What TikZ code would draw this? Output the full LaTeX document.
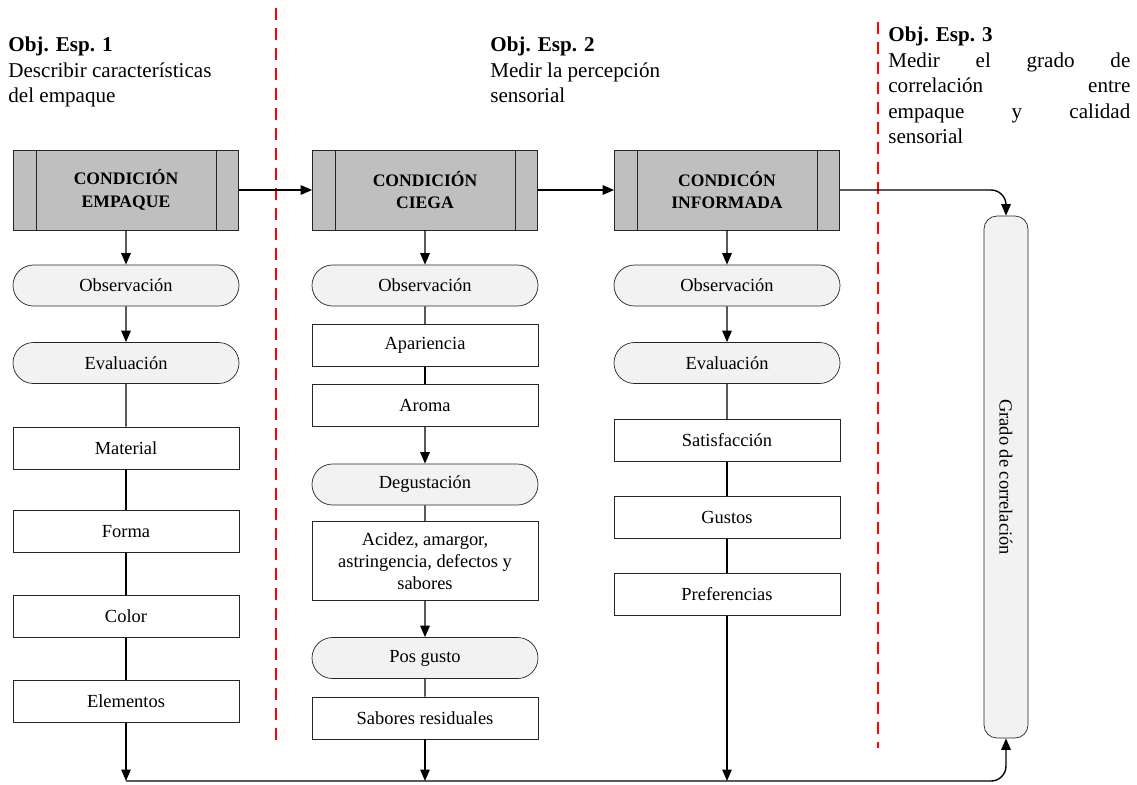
\documentclass[tikz,border=0pt]{standalone}
\usepackage{fontspec}
\setmainfont{Liberation Serif}
\usetikzlibrary{arrows.meta,shapes.misc}

\definecolor{condgray}{RGB}{191,191,191}
\definecolor{stepgray}{RGB}{242,242,242}

\tikzset{
  condbox/.style={rectangle, draw=black!85, fill=condgray, minimum width=45mm,
    minimum height=16mm, inner sep=0pt, align=center,
    font=\fontsize{10}{13}\selectfont\bfseries,
    path picture={
      \draw[black!85] ([xshift=4.6mm]path picture bounding box.north west) -- ([xshift=4.6mm]path picture bounding box.south west);
      \draw[black!85] ([xshift=-4.4mm]path picture bounding box.north east) -- ([xshift=-4.4mm]path picture bounding box.south east);
    }},
  roundbox/.style={rounded rectangle, draw=black!85, fill=stepgray, minimum width=45.2mm,
    minimum height=8.2mm, inner sep=0pt, font=\fontsize{10.5}{12.5}\selectfont},
  plainbox/.style={rectangle, draw=black!85, fill=white, minimum width=45.2mm,
    minimum height=8.4mm, inner sep=0pt, align=center, font=\fontsize{10.5}{12.5}\selectfont},
  gradobox/.style={rectangle, rounded corners=2.6mm, draw=black!85, fill=stepgray,
    minimum width=8.8mm, minimum height=104.4mm, inner sep=0pt, font=\fontsize{10.5}{12.5}\selectfont},
  objtext/.style={anchor=north west, inner sep=0pt, align=left, font=\fontsize{12}{14.5}\selectfont},
  link/.style={line width=0.8pt},
  arr/.style={line width=0.8pt, -{Triangle[length=2.3mm,width=1.9mm]}},
  divider/.style={red, line width=1.1pt, dash pattern=on 2.4mm off 1.6mm},
}

\begin{document}
\begin{tikzpicture}[x=0.2mm,y=-0.2mm]
\useasboundingbox (0,0) rectangle (1137,784);

% objectives:
\node[objtext] (obj1) at (8,37) {\textbf{Obj. Esp. 1}\\Describir características\\del empaque};
\node[objtext] (obj2) at (490,37) {\textbf{Obj. Esp. 2}\\Medir la percepción\\sensorial};
\node[objtext] (obj3) at (888,27) {\textbf{Obj. Esp. 3}\\
  \makebox[48.4mm][s]{Medir el grado de}\\
  \makebox[48.4mm][s]{correlación entre}\\
  \makebox[48.4mm][s]{empaque y calidad}\\
  sensorial};

% dividers:
\draw[divider] (276,8) -- (276,748);
\draw[divider] (878,22) -- (878,748);

% 1st column:
\node[condbox] (emp) at (126,190) {CONDICIÓN\\EMPAQUE};
\node[roundbox] (obs1) at (126,285.5) {Observación};
\node[roundbox] (eval1) at (126,363) {Evaluación};
\node[plainbox] (mat) at (126,448) {Material};
\node[plainbox] (forma) at (126,531.5) {Forma};
\node[plainbox] (color) at (126,616.5) {Color};
\node[plainbox] (elem) at (126,701.5) {Elementos};

\draw[arr] (emp) -- (obs1);
\draw[arr] (obs1) -- (eval1);
\draw[link] (eval1) -- (mat);
\draw[link] (mat) -- (forma);
\draw[link] (forma) -- (color);
\draw[link] (color) -- (elem);

% 2nd column:
\node[condbox] (ciega) at (425,190) {CONDICIÓN\\CIEGA};
\node[roundbox] (obs2) at (425,285.5) {Observación};
\node[plainbox] (apar) at (425,345.5) {Apariencia};
\node[plainbox] (aroma) at (425,405.5) {Aroma};
\node[roundbox] (degus) at (425,484.5) {Degustación};
\node[plainbox, minimum height=15.8mm] (acidez) at (425,561) {Acidez, amargor,\\astringencia, defectos y\\sabores};
\node[roundbox] (posg) at (425,658) {Pos gusto};
\node[plainbox] (resid) at (425,718) {Sabores residuales};

\draw[arr] (ciega) -- (obs2);
\draw[link] (obs2) -- (apar);
\draw[link] (apar) -- (aroma);
\draw[arr] (aroma) -- (degus);
\draw[link] (degus) -- (acidez);
\draw[arr] (acidez) -- (posg);
\draw[link] (posg) -- (resid);

% 3rd column:
\node[condbox] (inf) at (727,190) {CONDICÓN\\INFORMADA};
\node[roundbox] (obs3) at (727,285.5) {Observación};
\node[roundbox] (eval3) at (727,363) {Evaluación};
\node[plainbox] (satis) at (727,440.5) {Satisfacción};
\node[plainbox] (gustos) at (727,517.5) {Gustos};
\node[plainbox] (pref) at (727,594.5) {Preferencias};

\draw[arr] (inf) -- (obs3);
\draw[arr] (obs3) -- (eval3);
\draw[link] (eval3) -- (satis);
\draw[link] (satis) -- (gustos);
\draw[link] (gustos) -- (pref);

% correlation:
\node[gradobox] (grado) at (1006,477) {\rotatebox{-90}{Grado de correlación}};

\draw[arr] (emp) -- (ciega);
\draw[arr] (ciega) -- (inf);
\draw[arr, rounded corners=3mm] (inf) -| (grado.north);

% bottom line:
\coordinate (base) at (0,781);
\draw[arr] (elem) -- (elem |- base);
\draw[arr] (resid) -- (resid |- base);
\draw[arr] (pref) -- (pref |- base);
\draw[arr, rounded corners=3mm] (elem |- base) -| (grado.south);

\end{tikzpicture}
\end{document}
